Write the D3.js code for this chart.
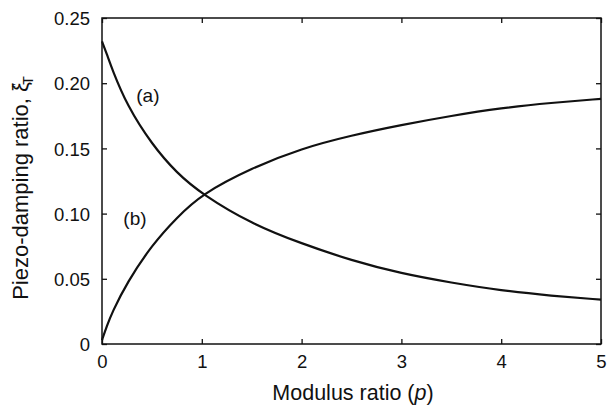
<!DOCTYPE html>
<html><head><meta charset="utf-8">
<script src="https://cdn.jsdelivr.net/npm/d3@7"></script>
<style>body{margin:0;background:#fff}svg{display:block}text{font-family:"Liberation Sans",Arial,sans-serif;fill:#111}</style>
</head><body>
<svg id="c" width="607" height="407"></svg>
<script>
const pValues = [0, 0.05, 0.1, 0.25, 0.5, 0.75, 1, 1.5, 2, 2.5, 3, 3.5, 4, 4.5, 5];
const seriesA = [0.232, 0.222, 0.211, 0.183, 0.153, 0.131, 0.115, 0.092, 0.077, 0.064, 0.054, 0.047, 0.041, 0.037, 0.034];
const seriesB = [0.003, 0.014, 0.024, 0.047, 0.076, 0.097, 0.115, 0.135, 0.150, 0.160, 0.168, 0.175, 0.181, 0.185, 0.188];
const xTicks = [0, 1, 2, 3, 4, 5];
const yTicks = [0, 0.05, 0.10, 0.15, 0.20, 0.25];
const yTickLabels = ["0", "0.05", "0.10", "0.15", "0.20", "0.25"];
const seriesLabels = [{t:"(a)", p:0.46, v:0.191}, {t:"(b)", p:0.33, v:0.096}];

const svg = d3.select("#c");
const L = 102, R = 601, T = 18, B = 344;
const x = d3.scaleLinear().domain([0, 5]).range([L, R]);
const y = d3.scaleLinear().domain([0, 0.25]).range([B, T]);

const g = svg.append("g");
g.append("rect").attr("x", L).attr("y", T).attr("width", R - L).attr("height", B - T)
  .attr("fill", "none").attr("stroke", "#111").attr("stroke-width", 1.5);

const fmtY = (d) => yTickLabels[yTicks.indexOf(d)];
const ax = (gen, tr) => {
  const a = g.append("g").attr("transform", tr).call(gen);
  a.select(".domain").remove();
  a.selectAll("line").attr("stroke", "#111").attr("stroke-width", 1.3);
  a.selectAll("text").style("font-size", "18.5px").attr("fill", "#111");
  return a;
};
ax(d3.axisBottom(x).tickValues(xTicks).tickSizeInner(-5).tickSizeOuter(0).tickPadding(11).tickFormat(d3.format("d")), `translate(0,${B})`);
ax(d3.axisLeft(y).tickValues(yTicks).tickSizeInner(-5).tickSizeOuter(0).tickPadding(12).tickFormat(fmtY), `translate(${L},0)`)
  .selectAll("text").attr("dy", "0.36em");
ax(d3.axisTop(x).tickValues(xTicks).tickSizeInner(-5).tickSizeOuter(0).tickFormat(""), `translate(0,${T})`);
ax(d3.axisRight(y).tickValues(yTicks).tickSizeInner(-5).tickSizeOuter(0).tickFormat(""), `translate(${R},0)`);

const line = d3.line().x((d) => x(d[0])).y((d) => y(d[1])).curve(d3.curveBasis);
[seriesA, seriesB].forEach((s) => {
  g.append("path").datum(pValues.map((p, i) => [p, s[i]]))
    .attr("d", line).attr("fill", "none").attr("stroke", "#111").attr("stroke-width", 2.2);
});

seriesLabels.forEach((l) => {
  g.append("text").attr("x", x(l.p)).attr("y", y(l.v)).attr("text-anchor", "middle")
    .attr("dy", "0.35em").style("font-size", "19px").text(l.t);
});

const xt = svg.append("text").attr("x", 353).attr("y", 400).attr("text-anchor", "middle")
  .style("font-size", "21.5px");
xt.append("tspan").text("Modulus ratio (");
xt.append("tspan").attr("font-style", "italic").text("p");
xt.append("tspan").text(")");

const yt = svg.append("text").attr("transform", `translate(28,188) rotate(-90)`)
  .attr("text-anchor", "middle").style("font-size", "22px");
yt.append("tspan").text("Piezo-damping ratio, ξ");
yt.append("tspan").attr("dy", "-0.6em").attr("dx", "-0.45em").style("font-size", "12px").text("″");
yt.append("tspan").attr("dy", "0.9em").attr("dx", "-0.1em").style("font-size", "14px").text("T");
</script>
</body></html>
